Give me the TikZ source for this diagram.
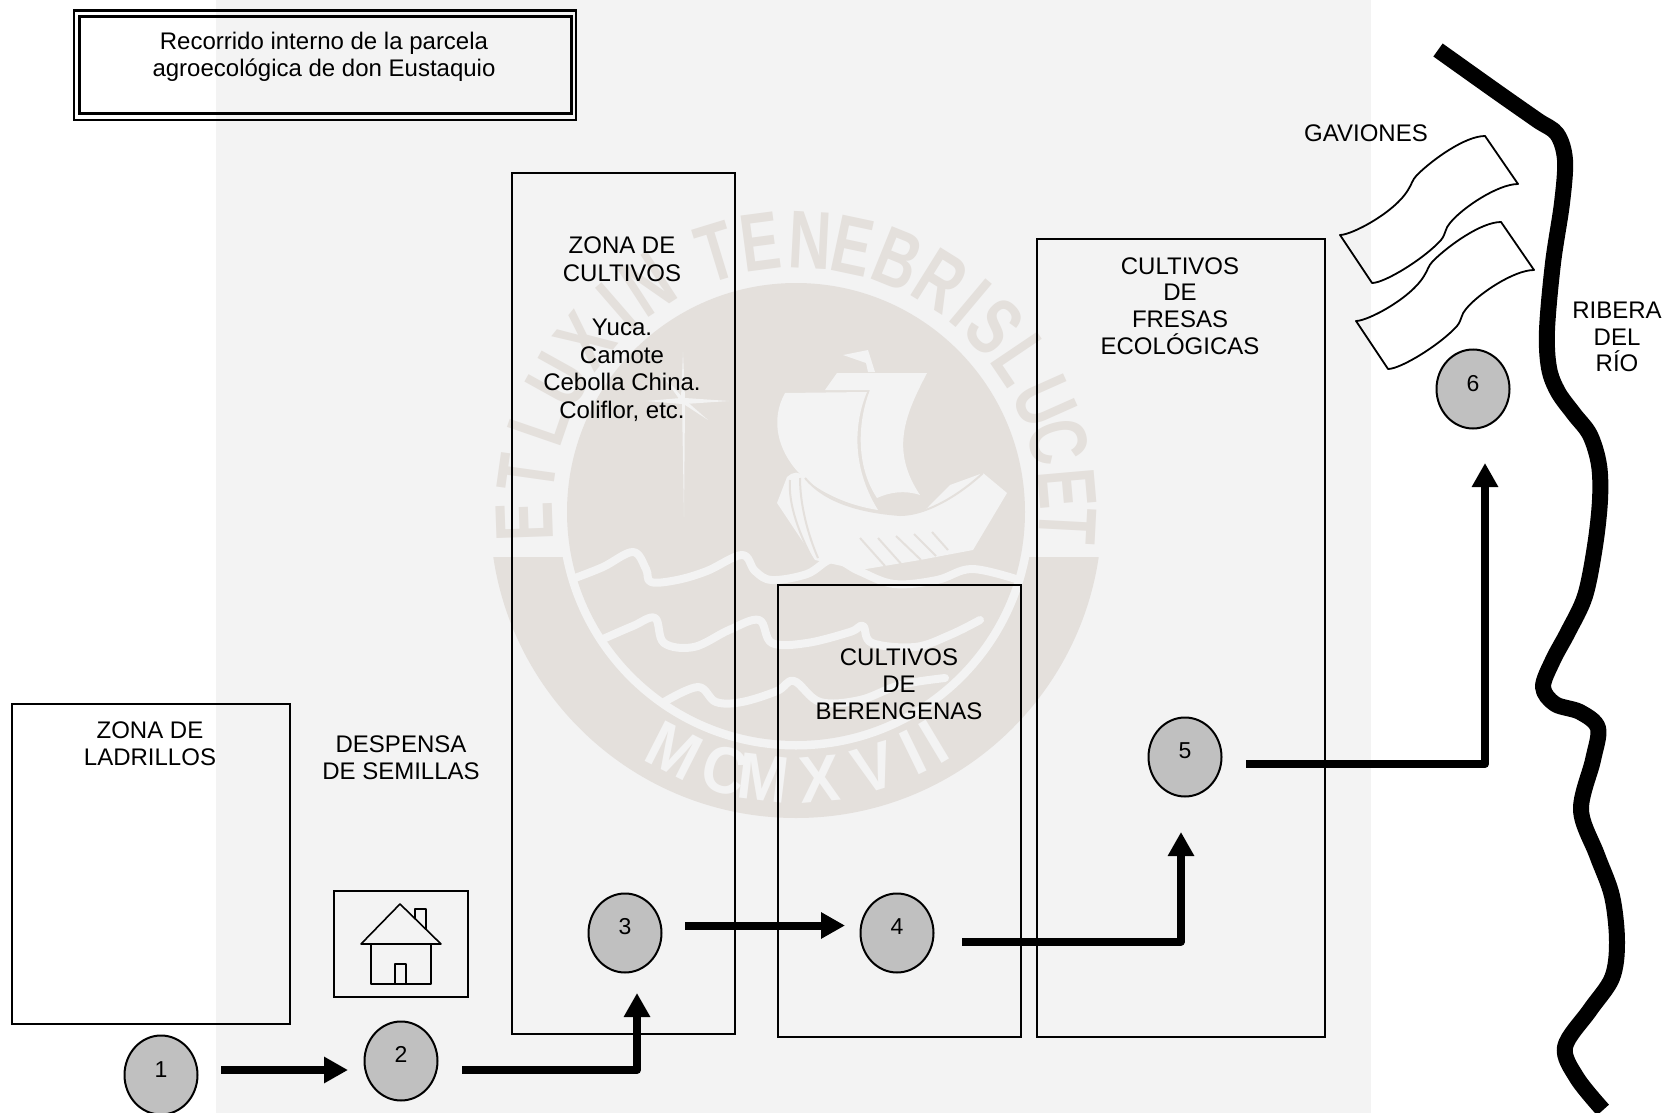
\documentclass[tikz,border=0pt]{standalone}
\usepackage{fontspec}
\setmainfont{Liberation Sans}
\newfontfamily\sealfont[FakeStretch=0.72]{Liberation Sans Bold}
\newfontfamily\sealwide[FakeStretch=0.92]{Liberation Sans Bold}
\usetikzlibrary{arrows.meta,shapes.geometric,calc}
\definecolor{paper}{HTML}{F3F3F3}
\definecolor{sealgrey}{HTML}{E4E0DC}
\definecolor{spot}{HTML}{C0C0C0}
\tikzset{
  x=1pt,y=-1pt,
  zonebox/.style={draw=black,line width=2pt,inner sep=0pt,rectangle},
  lbl/.style={font=\fontsize{24}{26.8}\selectfont,align=center,inner sep=0pt,text=black},
  spotc/.style={ellipse,draw=black,line width=2pt,fill=spot,minimum width=73pt,minimum height=79pt,inner sep=0pt,font=\fontsize{23}{25}\selectfont},
  flow/.style={line width=8pt,line join=round,-{Triangle[length=24pt,width=25pt]}},
  wave/.style={draw=paper,line width=8pt,line cap=round,line join=round},
  oar/.style={draw=sealgrey,line width=2pt},
  sealupper/.style={font=\sealfont\fontsize{82}{82}\selectfont,text=sealgrey,inner sep=0pt},
  seallower/.style={font=\sealwide\fontsize{66}{66}\selectfont,text=paper,inner sep=0pt},
  gabion/.style={draw=black,line width=1.8pt,line join=round},
  homeline/.style={draw=black,line width=1.6pt,line join=round},
}
\begin{document}
\begin{tikzpicture}
\useasboundingbox (0,0) rectangle (1668,1112.6);
\fill[white] (0,0) rectangle (1668,1114);
\fill[paper] (216,0) rectangle (1371,1114);
% ---- seal watermark
\begin{scope}
  \clip (0,557) rectangle (1668,1114);
  \fill[sealgrey] (796,512) circle[radius=306];
\end{scope}
\draw[paper,line width=9pt] (796,512) circle[radius=233];
\fill[sealgrey] (796,512) circle[radius=229];
% upper legend
\foreach \c/\a in {E/182,T/172,L/161,U/151,X/141,I/131,N/123,T/107,E/97.5,N/87,E/78,B/68,R/58,I/50,S/43,L/34,U/24,C/15,E/5,T/-3}{
  \node[sealupper,rotate=\a-90] at ($(796,512)+(\a:272pt)$) {\c};
}
% lower legend
\foreach \c/\a in {M/-117,C/-105.5,M/-97,X/-85,V/-73,I/-64,I/-59}{
  \node[seallower,rotate=\a+90] at ($(796,512)+(\a:268pt)$) {\c};
}
% star
\fill[paper] (683,352) -- (685,398) -- (729,401) -- (685,404) -- (684,517) -- (682,404) -- (646,401) -- (681,398) -- cycle;
\fill[paper] (660,372) -- (684,399) -- (708,420) -- (682,403) -- cycle;
% ship
\fill[paper] (843,355) -- (868,350) -- (875,372) -- (868,372) -- (866,363) -- cycle;
\fill[paper] (825,390) -- (837,373) -- (927,373) .. controls (905,415) and (890,450) .. (920,495) .. controls (905,490) and (890,492) .. (877,498) .. controls (855,465) and (858,420) .. (870,390) -- cycle;
\fill[paper] (785,393) -- (867,392) .. controls (855,420) and (850,465) .. (878,510) .. controls (845,505) and (815,490) .. (798,472) .. controls (778,450) and (770,420) .. (785,393) -- cycle;
\fill[paper] (787,477) .. controls (792,472) and (800,470) .. (805,478) .. controls (825,500) and (860,512) .. (900,515) .. controls (915,515) and (925,512) .. (930,505) -- (950,485) -- (983,473) -- (1007,493) -- (973,550) -- (920,560) -- (860,570) -- (815,560) -- (777,503) -- cycle;
\draw[oar] (790,480) .. controls (788,505) and (800,535) .. (812,558);
\draw[oar] (800,478) .. controls (800,505) and (808,535) .. (818,558);
\draw[oar] (805,478) .. controls (825,502) and (860,512) .. (900,515) .. controls (930,515) and (965,490) .. (983,473);
\draw[oar] (860,538) -- (885,566); \draw[oar] (878,538) -- (903,566); \draw[oar] (896,536) -- (921,560); \draw[oar] (914,534) -- (936,556); \draw[oar] (932,532) -- (948,550);
% waves
\draw[wave] plot[smooth,tension=.6] coordinates {(575,578) (603,567) (633,552) (646,569) (651,582) (677,580) (707,571) (742,555) (755,571) (772,580) (807,574) (833,559) (859,571) (894,584) (937,580) (972,569) (1019,580)};
\draw[wave] plot[smooth,tension=.6] coordinates {(603,639) (633,626) (655,618) (664,643) (694,647) (729,630) (759,620) (772,643) (807,643) (850,632) (863,626) (872,643) (915,647) (950,635) (980,620)};
\draw[wave] plot[smooth,tension=.6] coordinates {(664,702) (698,687) (716,702) (742,702) (777,691) (794,681) (820,702) (860,700) (900,685) (945,678)};
% ---- title frame
\draw[black,line width=2.4pt] (74,10.5) rectangle (576,120);
\draw[black,line width=3pt] (79,16.5) rectangle (571,114);
\node[lbl] (title) at (324,57) {Recorrido interno de la parcela\\agroecológica de don Eustaquio};
% ---- zones
\node[zonebox,minimum width=278pt,minimum height=320pt] (ladrillos) at (151,864) {};
\node[zonebox,minimum width=223pt,minimum height=861pt] (cultivos) at (623,603.5) {};
\node[zonebox,minimum width=243pt,minimum height=452pt] (berengenas) at (899.5,811) {};
\node[zonebox,minimum width=288pt,minimum height=798pt] (fresas) at (1181,638) {};
\node[lbl] (tladrillos) at (150,744) {ZONA DE\\LADRILLOS};
\node[lbl] (tdespensa) at (401,758) {DESPENSA\\DE SEMILLAS};
\node[lbl,font=\fontsize{24}{27.4}\selectfont] (tcultivos) at (622,329) {ZONA DE\\CULTIVOS\\[27.4pt]Yuca.\\Camote\\Cebolla China.\\Coliflor, etc.};
\node[lbl] (tberengenas) at (899,684) {CULTIVOS\\DE\\BERENGENAS};
\node[lbl] (tfresas) at (1180,306) {CULTIVOS\\DE\\FRESAS\\ECOLÓGICAS};
\node[lbl] (tgaviones) at (1366,133) {GAVIONES};
\node[lbl] (trio) at (1617,337) {RIBERA\\DEL\\RÍO};
% ---- store house
\node[zonebox,minimum width=134pt,minimum height=106pt] (despensa) at (401,944) {};
\draw[homeline] (415,919) -- (415,909) -- (426,909) -- (426,930);
\draw[homeline] (400,904) -- (441,944) -- (361,944) -- cycle;
\draw[homeline] (371,944) -- (371,984) -- (431,984) -- (431,944);
\draw[homeline] (395,984) -- (395,964) -- (406,964) -- (406,984);
% ---- gabions
\foreach \sx/\sy in {0/0,16/86}{
\begin{scope}[shift={(\sx,\sy)}]
\draw[gabion] (1340,235) .. controls (1352,235) and (1395,212) .. (1408,190) .. controls (1412,184) and (1412,180) .. (1417,175) .. controls (1432,160) and (1465,136) .. (1485,136) -- (1518,184) .. controls (1498,184) and (1462,208) .. (1450,223) .. controls (1445,228) and (1446,234) .. (1441,240) .. controls (1425,258) and (1385,283) .. (1372,283) -- cycle;
\end{scope}
}
% ---- river
\draw[black,line width=16pt,line join=round] plot[smooth,tension=.55] coordinates {(1438,50) (1497,92) (1537,120) (1557,134) (1565,160) (1562,203) (1553,263) (1547,330) (1549,368) (1558,392) (1574,414) (1590,435) (1599,465) (1600,500) (1595,546) (1585,596) (1568,632) (1553,660) (1543,687) (1555,704) (1580,712) (1598,728) (1593,760) (1581,810) (1597,855) (1612,896) (1617,942) (1612,978) (1590,1010) (1565,1047) (1577,1078) (1603,1110)};
% ---- stops
\node[spotc] (s1) at (161,1075) {\raisebox{10pt}{1}};
\node[spotc] (s2) at (401,1061) {\raisebox{13pt}{2}};
\node[spotc] (s3) at (625,933) {\raisebox{13pt}{3}};
\node[spotc] (s4) at (897,933) {\raisebox{13pt}{4}};
\node[spotc] (s5) at (1185,757) {\raisebox{13pt}{5}};
\node[spotc] (s6) at (1473,389) {\raisebox{12pt}{6}};
% ---- route
\draw[flow] ([xshift=22.5pt,yshift=5pt]s1.east) -- ([xshift=-15.5pt,yshift=-9pt]s2.west);
\draw[flow] ([xshift=23.5pt,yshift=-9pt]s2.east) -| ([xshift=12pt,yshift=-19.5pt]s3.south);
\draw[flow] ([xshift=22.5pt,yshift=7.5pt]s3.east) -- ([xshift=-14.5pt,yshift=7.5pt]s4.west);
\draw[flow] ([xshift=27.5pt,yshift=-8.5pt]s4.east) -| ([xshift=-4pt,yshift=-34.5pt]s5.south);
\draw[flow] ([xshift=23.5pt,yshift=-7pt]s5.east) -| ([xshift=12pt,yshift=-33.5pt]s6.south);
\end{tikzpicture}
\end{document}
